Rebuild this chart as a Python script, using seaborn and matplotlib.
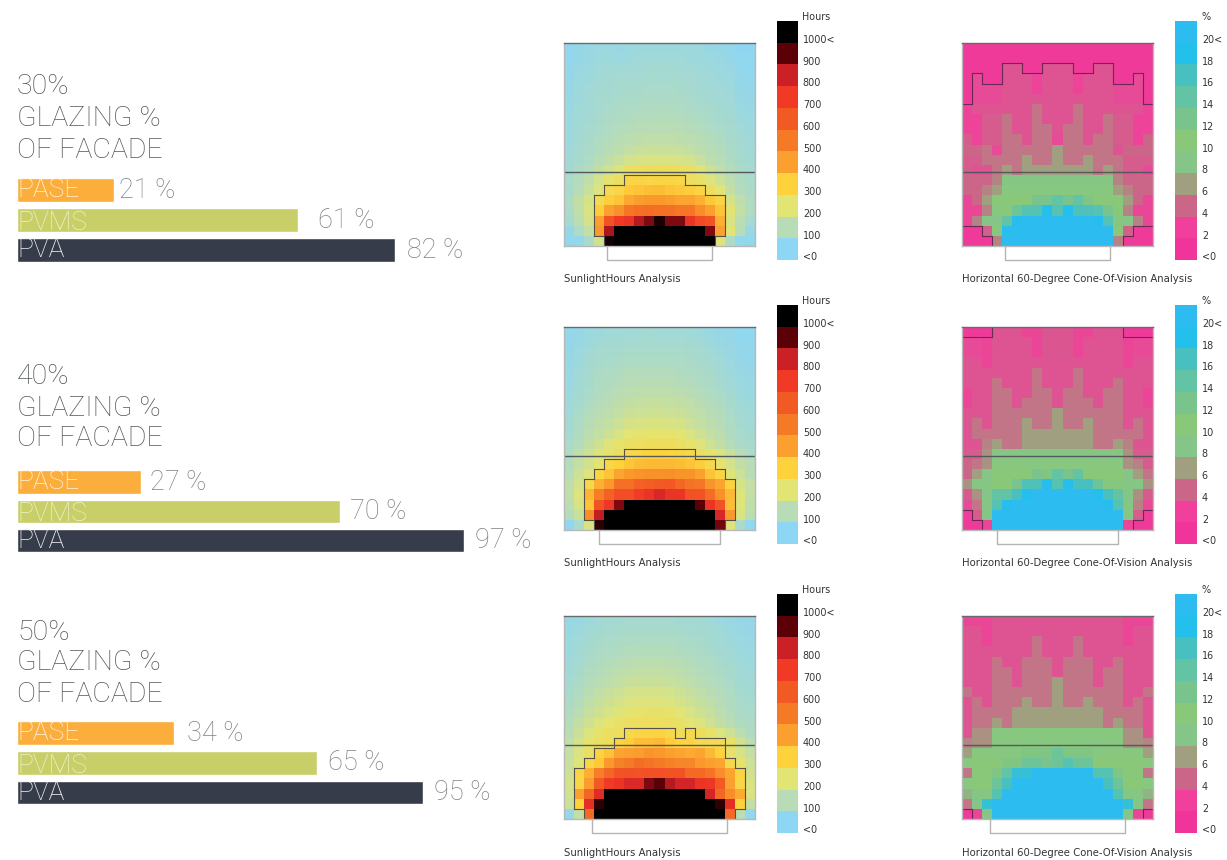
import numpy as np
import pandas as pd
import matplotlib
matplotlib.use('Agg')
import matplotlib.pyplot as plt
from matplotlib.colors import LinearSegmentedColormap
import seaborn as sns

FIG_W, FIG_H = 1227, 860

# bar data
glazing = ['30%', '40%', '50%']
systems = ['PASE', 'PVMS', 'PVA']
bars_30 = [21, 61, 82]
bars_40 = [27, 70, 97]
bars_50 = [34, 65, 88]  # PVA bar is drawn shorter than its printed 95 %
printed_30 = ['21 %', '61 %', '82 %']
printed_40 = ['27 %', '70 %', '97 %']
printed_50 = ['34 %', '65 %', '95 %']

# legends
sun_levels = [1100, 900, 800, 700, 600, 500, 400, 300, 200, 100, 0]
sun_labels = ['1000<', '900', '800', '700', '600', '500', '400', '300', '200', '100', '<0']
cone_levels = [20, 18, 16, 14, 12, 10, 8, 6, 4, 2, 0]
cone_labels = ['20<', '18', '16', '14', '12', '10', '8', '6', '4', '2', '<0']

# sunlight hours per cell
sun_30 = [
    [10, 20, 30, 35, 35, 30, 35, 40, 40, 40, 40, 40, 40, 35, 25, 25, 15, 5, 5],
    [15, 25, 30, 40, 40, 35, 40, 45, 45, 45, 45, 45, 40, 40, 35, 30, 20, 10, 10],
    [20, 30, 35, 45, 45, 50, 50, 50, 55, 55, 55, 50, 50, 45, 40, 35, 30, 15, 10],
    [25, 35, 40, 50, 55, 60, 60, 60, 60, 60, 60, 60, 60, 50, 45, 40, 35, 20, 15],
    [25, 40, 45, 55, 55, 60, 65, 65, 70, 70, 70, 65, 60, 55, 50, 50, 40, 25, 20],
    [30, 40, 50, 60, 60, 70, 70, 75, 75, 75, 75, 75, 70, 60, 55, 50, 45, 30, 25],
    [30, 45, 50, 60, 70, 75, 80, 80, 85, 85, 85, 80, 75, 70, 65, 55, 50, 35, 30],
    [35, 45, 55, 65, 75, 80, 85, 90, 90, 95, 95, 90, 85, 80, 70, 60, 55, 40, 35],
    [40, 50, 60, 70, 80, 90, 95, 100, 105, 105, 105, 100, 95, 90, 80, 70, 60, 50, 40],
    [40, 55, 65, 80, 90, 100, 110, 115, 120, 120, 120, 115, 110, 100, 90, 80, 65, 55, 45],
    [45, 60, 75, 85, 100, 115, 130, 140, 145, 145, 145, 140, 130, 115, 100, 90, 75, 60, 50],
    [50, 65, 80, 100, 120, 140, 165, 175, 180, 180, 180, 175, 165, 140, 115, 100, 80, 65, 55],
    [55, 75, 95, 125, 160, 195, 230, 240, 245, 245, 245, 240, 230, 195, 155, 120, 95, 75, 60],
    [70, 90, 120, 165, 210, 235, 280, 285, 280, 285, 285, 280, 240, 225, 190, 150, 110, 85, 70],
    [65, 100, 140, 190, 265, 280, 320, 330, 340, 345, 330, 320, 310, 290, 240, 200, 130, 90, 75],
    [80, 125, 170, 255, 310, 330, 385, 410, 420, 420, 410, 390, 390, 370, 320, 285, 170, 120, 85],
    [75, 120, 180, 310, 400, 440, 510, 530, 540, 530, 530, 510, 510, 450, 400, 330, 210, 130, 85],
    [60, 110, 170, 400, 620, 700, 720, 820, 870, 970, 870, 870, 720, 650, 620, 370, 180, 110, 60],
    [20, 80, 130, 420, 830, 1100, 1100, 1100, 1100, 1100, 1100, 1100, 1100, 1100, 870, 400, 200, 100, 30],
    [10, 20, 70, 160, 980, 1100, 1100, 1100, 1100, 1100, 1100, 1100, 1100, 1100, 1000, 190, 80, 15, 10],
]
sun_40 = [
    [15, 25, 35, 40, 45, 45, 50, 50, 55, 50, 50, 50, 45, 40, 30, 25, 20, 10, 10],
    [20, 30, 40, 50, 55, 55, 60, 60, 60, 60, 60, 60, 55, 50, 40, 30, 25, 15, 15],
    [25, 35, 50, 60, 60, 65, 70, 70, 70, 70, 70, 70, 65, 60, 50, 40, 30, 20, 15],
    [30, 40, 55, 65, 70, 75, 80, 80, 80, 80, 80, 80, 75, 65, 60, 50, 35, 25, 20],
    [30, 45, 60, 75, 80, 85, 90, 90, 90, 90, 90, 85, 80, 75, 65, 50, 40, 30, 25],
    [35, 50, 65, 80, 85, 95, 100, 100, 105, 105, 100, 95, 90, 80, 75, 60, 45, 35, 30],
    [40, 55, 70, 85, 95, 105, 110, 115, 115, 115, 115, 110, 105, 95, 80, 70, 55, 40, 30],
    [45, 60, 80, 95, 105, 115, 125, 130, 135, 135, 130, 125, 120, 105, 95, 80, 65, 45, 40],
    [50, 70, 90, 105, 115, 130, 145, 150, 150, 155, 150, 145, 130, 120, 105, 90, 70, 55, 45],
    [55, 80, 100, 115, 130, 150, 170, 175, 180, 180, 175, 170, 150, 130, 115, 100, 80, 60, 50],
    [60, 85, 110, 130, 155, 180, 200, 210, 215, 215, 215, 205, 180, 155, 130, 110, 85, 70, 55],
    [70, 95, 125, 155, 190, 215, 235, 240, 245, 245, 245, 235, 215, 190, 155, 125, 95, 75, 65],
    [85, 120, 150, 190, 215, 235, 275, 280, 300, 300, 295, 285, 270, 230, 215, 180, 140, 100, 80],
    [90, 130, 160, 210, 280, 300, 325, 345, 350, 350, 350, 345, 330, 310, 275, 215, 165, 125, 100],
    [100, 150, 190, 290, 330, 390, 420, 430, 440, 440, 445, 430, 430, 400, 330, 290, 195, 150, 100],
    [120, 165, 270, 370, 420, 530, 530, 580, 590, 600, 610, 560, 520, 510, 430, 390, 300, 170, 130],
    [120, 190, 360, 490, 580, 640, 640, 690, 720, 770, 720, 720, 630, 620, 540, 440, 350, 195, 130],
    [110, 175, 330, 620, 710, 870, 1100, 1100, 1100, 1100, 1100, 1100, 1100, 900, 720, 620, 340, 190, 120],
    [90, 140, 450, 810, 1100, 1100, 1100, 1100, 1100, 1100, 1100, 1100, 1100, 1100, 1100, 770, 420, 180, 110],
    [5, 70, 180, 950, 1100, 1100, 1100, 1100, 1100, 1100, 1100, 1100, 1100, 1100, 1100, 880, 190, 70, 10],
]
sun_50 = [
    [25, 30, 40, 50, 55, 55, 60, 60, 60, 60, 60, 55, 55, 50, 45, 35, 30, 25, 20],
    [30, 40, 50, 55, 60, 65, 65, 65, 65, 65, 65, 65, 60, 55, 55, 45, 35, 30, 25],
    [35, 45, 55, 65, 70, 75, 75, 80, 80, 80, 80, 75, 70, 65, 55, 50, 40, 35, 30],
    [40, 50, 65, 75, 80, 85, 90, 90, 95, 95, 90, 85, 80, 75, 65, 55, 50, 40, 35],
    [45, 60, 75, 85, 95, 100, 105, 110, 110, 110, 105, 100, 95, 85, 80, 65, 55, 45, 40],
    [50, 65, 85, 95, 105, 115, 120, 125, 125, 125, 120, 115, 105, 95, 85, 75, 65, 50, 45],
    [60, 75, 95, 105, 120, 130, 140, 145, 145, 145, 140, 130, 120, 105, 95, 85, 70, 55, 50],
    [65, 85, 105, 120, 135, 150, 165, 170, 170, 170, 165, 150, 135, 120, 105, 90, 80, 60, 55],
    [75, 95, 120, 135, 155, 170, 185, 190, 190, 190, 185, 170, 155, 135, 120, 100, 85, 70, 60],
    [85, 105, 135, 155, 175, 195, 210, 215, 220, 220, 215, 200, 175, 155, 135, 110, 95, 75, 70],
    [95, 125, 155, 185, 205, 220, 235, 240, 240, 240, 235, 220, 205, 185, 155, 125, 105, 85, 75],
    [105, 145, 185, 215, 235, 240, 270, 285, 285, 290, 270, 245, 270, 245, 225, 185, 150, 110, 85],
    [120, 165, 210, 235, 245, 290, 310, 340, 340, 350, 310, 295, 290, 265, 260, 265, 225, 160, 110],
    [130, 180, 230, 300, 330, 390, 400, 410, 430, 420, 400, 390, 380, 390, 350, 300, 220, 170, 130],
    [140, 195, 280, 320, 420, 480, 500, 540, 520, 500, 480, 470, 470, 420, 400, 390, 270, 215, 150],
    [150, 290, 370, 490, 560, 620, 630, 620, 630, 630, 620, 620, 550, 550, 520, 450, 390, 290, 160],
    [170, 280, 410, 600, 700, 720, 760, 760, 870, 900, 820, 780, 780, 720, 710, 600, 400, 280, 180],
    [160, 400, 560, 750, 1050, 1100, 1100, 1100, 1100, 1100, 1100, 1100, 1100, 1100, 780, 560, 450, 380, 180],
    [150, 300, 740, 950, 1100, 1100, 1100, 1100, 1100, 1100, 1100, 1100, 1100, 1100, 1100, 950, 740, 300, 130],
    [20, 130, 550, 1100, 1100, 1100, 1100, 1100, 1100, 1100, 1100, 1100, 1100, 1100, 1100, 1100, 550, 110, 10],
]

# cone of vision % per cell
cone_30 = [
    [1, 1, 1, 1, 1, 1, 1, 1, 1, 1, 1, 1, 1, 1, 1, 1, 1, 1, 1],
    [1, 1, 1, 1, 1, 1, 1, 1, 1, 1, 1, 1, 1, 1, 1, 1, 1, 1, 1],
    [1, 1, 1, 1, 3, 3, 1, 1, 3, 3, 3, 1, 1, 3, 3, 1, 1, 1, 1],
    [1, 2.5, 1, 1, 3, 3, 3, 2.2, 3, 3, 3, 2.2, 3, 3, 3, 1, 1, 2.5, 1],
    [1, 2.5, 2.5, 2.5, 3, 3, 3, 2.2, 3, 3, 3, 2.2, 3, 3, 3, 2.5, 2.5, 2.5, 1],
    [1, 2.5, 2.5, 2.5, 3, 3, 3, 3, 3, 3, 3, 3, 3, 3, 3, 2.5, 2.5, 2.5, 1],
    [2.2, 3, 3, 3, 3, 3, 3, 4.5, 3, 3, 3, 4.5, 3, 3, 3, 3, 3, 3, 2.2],
    [2.2, 2.2, 3.5, 3.5, 4.5, 3, 3, 4.5, 3, 3, 3, 4.5, 3, 3, 4.5, 3.5, 3.5, 2.2, 2.2],
    [2.2, 2.2, 3.5, 3.5, 4.5, 3, 3, 4.5, 4.5, 3, 4.5, 4.5, 3, 3, 4.5, 3.5, 3.5, 2.2, 2.2],
    [3.5, 2.2, 3.5, 3.5, 4.5, 4.5, 3, 4.5, 4.5, 2.5, 4.5, 4.5, 3, 4.5, 4.5, 3.5, 3.5, 2.2, 4],
    [4, 4, 4.5, 2.5, 4.5, 4.5, 4.5, 4.5, 4.5, 6, 4.5, 4.5, 4.5, 4.5, 4.5, 3, 4, 4, 4],
    [3.5, 3.5, 4.5, 4.5, 4.5, 4.5, 6, 4.5, 4.5, 6, 4.5, 4.5, 6, 4.5, 4.5, 4.5, 3.5, 3.5, 3.5],
    [3.5, 3, 3, 4.5, 6, 4.5, 6, 6, 6, 6, 6, 6, 6, 4.5, 6, 4.5, 3.5, 3.5, 2.5],
    [4, 4, 4, 5, 8.5, 8.5, 8.5, 8.5, 8.5, 8.5, 8.5, 8.5, 8.5, 8.5, 8.5, 5, 4, 4, 4],
    [4, 4, 5, 6, 9, 9, 9, 9, 9, 9, 9, 9, 9, 9, 9, 6, 5, 4, 4],
    [2.3, 4, 6, 10, 10, 10, 10, 12, 12, 14, 12, 14, 11, 10, 10, 10, 6, 4, 2.3],
    [2.3, 2.3, 5, 9, 10, 13, 15, 15, 18.5, 15, 18.5, 15.5, 15.5, 15, 12, 10, 5, 2.3, 2.3],
    [2.3, 5, 8, 8, 14, 19, 20, 20, 20, 20, 20, 20, 20, 19, 15, 8.5, 8.5, 5, 2.3],
    [1, 1, 3.8, 9, 19.5, 20, 20, 20, 20, 20, 20, 20, 20, 20, 20, 10, 3.8, 1, 1],
    [1, 1, 1, 5, 20, 20, 20, 20, 20, 20, 20, 20, 20, 20, 20, 5, 1, 1, 1],
]
cone_40 = [
    [1, 1, 1, 3, 3, 3, 2.3, 2.3, 3.2, 3.2, 3.2, 2.3, 2.3, 3, 3, 3, 1, 1, 1],
    [2.5, 2.5, 2.3, 3, 3, 3, 3, 2.3, 3.2, 3.2, 3.2, 2.3, 3, 3, 3, 3, 2.3, 2.5, 2.5],
    [2.5, 2.5, 2.3, 3, 3, 3, 3, 2.3, 3.2, 3.2, 3.2, 2.3, 3, 3, 3, 3, 2.3, 2.5, 2.5],
    [3, 3, 2.3, 3, 3, 3, 3, 3, 3, 3, 3, 3, 3, 3, 3, 3, 2.3, 3, 3],
    [3, 3, 3, 3, 3, 3, 3, 4.5, 3, 3, 3, 4.5, 3, 3, 3, 3, 3, 3, 3],
    [3, 3, 3, 4.5, 3, 3, 3, 4.5, 3, 3, 3, 4.5, 3, 3, 3, 4.5, 3, 3, 3],
    [2.3, 3, 3, 4.5, 4.5, 3, 3, 4.5, 4.5, 3, 4.5, 4.5, 3, 3, 4.5, 4.5, 3, 3, 2.3],
    [2.3, 3, 3, 4.5, 4.5, 3, 4.5, 4.5, 4.5, 3, 4.5, 4.5, 4.5, 3, 4.5, 4.5, 3, 3, 2.3],
    [3, 3, 3, 4.5, 4.5, 4.5, 4.5, 4.5, 4.5, 6, 4.5, 4.5, 4.5, 4.5, 4.5, 4.5, 3, 3, 3],
    [3, 4.5, 3, 4.5, 4.5, 4.5, 6, 4.5, 4.5, 6, 4.5, 4.5, 6, 4.5, 4.5, 4.5, 3, 4.5, 3],
    [3, 4.5, 4.5, 4.5, 4.5, 4.5, 6, 6, 6, 6, 6, 6, 6, 4.5, 4.5, 4.5, 4.5, 4.5, 3],
    [3, 3, 5, 6, 4.5, 4.5, 6, 6, 6, 6, 6, 6, 6, 4.5, 4.5, 6, 5, 3, 3],
    [3.5, 3.5, 5.5, 8.5, 8.5, 8.5, 8.5, 8.5, 8.5, 8.5, 8.5, 8.5, 8.5, 8.5, 8.5, 8.5, 5.5, 3.5, 3.5],
    [4, 4.5, 5.5, 9, 9, 9, 9, 9, 9, 9, 9, 9, 9, 9, 9, 9, 5.5, 5, 3.5],
    [4, 6, 8, 10, 10, 10, 10, 12, 11, 14, 12, 14, 10, 10, 10, 10, 8, 6, 4.5],
    [5.5, 8.5, 8.5, 10, 10, 12, 15.5, 15.5, 19, 15, 19, 16, 16, 13, 10.5, 10.5, 8.5, 8.5, 5.5],
    [3.5, 5.5, 8, 14, 14, 16, 18.5, 20, 20, 20, 20, 20, 20, 18.5, 16, 14, 8, 5.5, 3.5],
    [2.5, 4.5, 8, 15, 19, 20, 20, 20, 20, 20, 20, 20, 20, 20, 19, 15, 8.5, 5, 2.5],
    [1.5, 3.5, 8.5, 20, 20, 20, 20, 20, 20, 20, 20, 20, 20, 20, 20, 20, 8.5, 3.5, 1.5],
    [1, 1, 2.3, 20, 20, 20, 20, 20, 20, 20, 20, 20, 20, 20, 20, 20, 2.3, 1, 1],
]
cone_50 = [
    [2.3, 2.3, 2.3, 3, 3, 3, 3, 3, 3, 3, 3, 3, 3, 3, 3, 3, 2.3, 2.3, 2.3],
    [3, 3, 2.3, 3, 3, 3, 3, 3, 3, 3, 3, 3, 3, 3, 3, 3, 2.3, 3, 3],
    [3, 3, 2.3, 3, 3, 3, 3, 4.5, 3, 3, 3, 4.5, 3, 3, 3, 3, 2.3, 3, 3],
    [3, 3, 3, 3, 3, 3, 3, 4.5, 3, 3, 3, 4.5, 3, 3, 3, 3, 3, 3, 3],
    [3, 3, 3, 4.5, 3, 3, 4.5, 4.5, 4.5, 3, 4.5, 4.5, 4.5, 3, 3, 4.5, 3, 3, 3],
    [3, 3, 3, 4.5, 4.5, 3, 4.5, 4.5, 4.5, 3, 4.5, 4.5, 4.5, 3, 4.5, 4.5, 3, 3, 3],
    [3, 3, 3, 4.5, 4.5, 3, 4.5, 4.5, 4.5, 6, 4.5, 4.5, 4.5, 3, 4.5, 4.5, 3, 3, 3],
    [4.5, 3, 3, 4.5, 4.5, 4.5, 4.5, 4.5, 4.5, 6, 4.5, 4.5, 4.5, 4.5, 4.5, 4.5, 3, 3, 4.5],
    [3, 4.5, 3, 4.5, 4.5, 4.5, 6, 4.5, 4.5, 6, 4.5, 4.5, 6, 4.5, 4.5, 4.5, 3, 4.5, 3],
    [3, 4.5, 4.5, 4.5, 4.5, 6, 6, 6, 6, 6, 6, 6, 6, 6, 4.5, 4.5, 4.5, 4.5, 3],
    [3, 4.5, 4.5, 6, 4.5, 6, 6, 6, 6, 6, 6, 6, 6, 6, 4.5, 6, 4.5, 4.5, 3],
    [3, 5.5, 5.5, 9, 9, 9, 9, 9, 9, 9, 9, 9, 9, 9, 9, 9, 5.5, 5.5, 3],
    [5, 5.5, 5.5, 9, 9, 9, 9, 9, 9, 9, 9, 9, 9, 9, 9, 9, 5.5, 5.5, 5],
    [6, 9, 9, 9, 9, 9, 11, 11, 11, 13, 11, 11, 11, 9, 9, 9, 9, 9, 6],
    [9, 10, 10, 10, 11, 11, 13, 13, 12, 13, 15, 13, 13, 10, 10, 10, 10, 10, 9],
    [4.5, 10, 10, 11, 14, 17, 17, 20, 20, 20, 20, 20, 20, 15, 15, 11, 10, 10, 4.5],
    [9, 10, 10, 13, 16, 20, 20, 20, 20, 20, 20, 20, 20, 20, 16, 13, 10, 10, 9],
    [7, 8.5, 8.5, 15, 20, 20, 20, 20, 20, 20, 20, 20, 20, 20, 20, 15, 8.5, 8.5, 7],
    [4.5, 8, 17, 20, 20, 20, 20, 20, 20, 20, 20, 20, 20, 20, 20, 20, 17, 8, 4.5],
    [1, 2.3, 8.5, 20, 20, 20, 20, 20, 20, 20, 20, 20, 20, 20, 20, 20, 8.5, 2.3, 1],
]

# colormaps: band colours at the legend levels
sun_cmap = LinearSegmentedColormap.from_list('sun', [
    (0.0, '#8dd6f4'), (0.1, '#b7dcb6'), (0.2, '#e2e574'), (0.3, '#fed23d'),
    (0.4, '#fba02e'), (0.5, '#f57a25'), (0.6, '#f25a24'), (0.7, '#f13a26'),
    (0.8, '#cc2027'), (0.9, '#5c0008'), (1.0, '#000000')], N=512)
cone_cmap = LinearSegmentedColormap.from_list('cone', [
    (0.0, '#f0349a'), (0.1, '#f0409b'), (0.2, '#cc6688'), (0.3, '#a0a080'),
    (0.4, '#85c688'), (0.5, '#88c878'), (0.6, '#78c48c'), (0.7, '#62c4a4'),
    (0.8, '#48c0c0'), (0.9, '#22c0ea'), (1.0, '#2cbcf0')], N=512)

sns.set_theme(style='white')
plt.rcParams['font.family'] = ['Roboto', 'DejaVu Sans']
fig = plt.figure(figsize=(FIG_W / 100, FIG_H / 100), dpi=100, facecolor='white')


def px_axes(x0, y0, x1, y1):
    # axes from pixel box, y measured from the top
    return fig.add_axes([x0 / FIG_W, 1 - y1 / FIG_H, (x1 - x0) / FIG_W, (y1 - y0) / FIG_H])


def px_text(x, y, s, **kw):
    fig.text(x / FIG_W, 1 - y / FIG_H, s, va='center', **kw)


def draw_step_outline(ax, grid, level, color):
    # outline the cells above level, only on edges between two cells
    inside = np.array(grid) > level
    rows, cols = inside.shape
    for r in range(rows):
        for c in range(cols):
            if r + 1 < rows and inside[r, c] != inside[r + 1, c]:
                ax.plot([c, c + 1], [r + 1, r + 1], color=color, lw=0.8, solid_capstyle='projecting')
            if c + 1 < cols and inside[r, c] != inside[r, c + 1]:
                ax.plot([c + 1, c + 1], [r, r + 1], color=color, lw=0.8, solid_capstyle='projecting')


def draw_map(box, grid, cmap, vmax, level, line_color, room, caption):
    ax = px_axes(*box)
    sns.heatmap(grid, ax=ax, cmap=cmap, vmin=0, vmax=vmax, cbar=False,
                xticklabels=False, yticklabels=False)
    draw_step_outline(ax, grid, level, line_color)
    ax.axhline(12.75, color='#55585a', lw=1)
    # room footprint under the grid
    ax.plot([room[0], room[0], room[1], room[1]], [20, 21.35, 21.35, 20],
            color='#b4b4b4', lw=1, clip_on=False)
    for side, spine in ax.spines.items():
        spine.set_visible(True)
        spine.set_color('#6a6a6a' if side == 'top' else '#b8b8b8')
        spine.set_linewidth(1)
    px_text(box[0], box[3] + 33.5, caption, fontsize=7.25, color='#333333', family='DejaVu Sans')


def draw_legend(box, levels, labels, cmap, vmax, head):
    ax = px_axes(*box)
    sns.heatmap(pd.DataFrame({'band': levels}), ax=ax, cmap=cmap, vmin=0, vmax=vmax, cbar=False,
                xticklabels=False, yticklabels=labels)
    ax.set_yticks(np.arange(len(levels)) + 0.83)
    ax.set_yticklabels(labels, rotation=0, fontsize=6.9, color='#333333', family='DejaVu Sans')
    ax.yaxis.tick_right()
    ax.tick_params(axis='y', length=0, pad=3.5)
    px_text(box[2] + 4, box[1] - 4, head, fontsize=6.9, color='#333333', family='DejaVu Sans')


def draw_bars(top, pitch, values, printed, gaps, heading, heading_ys):
    # one axes with three rows, 4.61 px per percent
    ax = px_axes(17, top, 537, top + 3 * pitch)
    data = pd.DataFrame({'system': systems, 'value': values})
    sns.barplot(data=data, x='value', y='system', hue='system', orient='h', ax=ax, width=0.8,
                palette=['#fbae3c', '#c8cf68', '#363c4a'], saturation=1, legend=False)
    ax.set_xlim(0, 520 / 4.61)
    ax.set_ylim(2.5, -0.5)
    ax.axis('off')
    label_colors = ['#fff4e0', '#eef1c6', '#f2f3f5']
    label_shift = [0, 0.09, 0]
    for i, name in enumerate(systems):
        t = ax.text(0.1, i + label_shift[i], name, va='center', ha='left', fontsize=19,
                    fontweight='light', color=label_colors[i], zorder=5)
        # PVMS runs off the bottom of its bar
        t.set_clip_path(ax.patches[i])
        ax.annotate(printed[i], (values[i], i), xytext=(gaps[i] * 0.72, 0),
                    textcoords='offset points', va='center', ha='left', fontsize=19.5,
                    fontweight='light', color='#7d8184')
    for y, line in zip(heading_ys, heading):
        px_text(17, y, line, fontsize=20.5, fontweight='light', color='#54585b')


sun_boxes = [(564, 43, 755, 246), (564, 327, 755, 530), (564, 616, 755, 819)]
cone_boxes = [(962, 43, 1153, 246), (962, 327, 1153, 530), (962, 616, 1153, 819)]
sun_legends = [(777, 21, 798, 260), (777, 305, 798, 544), (777, 594, 798, 833)]
cone_legends = [(1175, 21, 1197, 260), (1175, 305, 1197, 544), (1175, 594, 1197, 833)]
rooms = [(4.25, 14.75), (3.5, 15.5), (2.75, 16.25)]
sun_grids = [sun_30, sun_40, sun_50]
cone_grids = [cone_30, cone_40, cone_50]

for i in range(3):
    draw_map(sun_boxes[i], sun_grids[i], sun_cmap, 1000, 250, '#55504a', rooms[i], 'SunlightHours Analysis')
    draw_map(cone_boxes[i], cone_grids[i], cone_cmap, 20, 2, '#6a2a55', rooms[i],
             'Horizontal 60-Degree Cone-Of-Vision Analysis')
    draw_legend(sun_legends[i], sun_levels, sun_labels, sun_cmap, 1000, 'Hours')
    draw_legend(cone_legends[i], cone_levels, cone_labels, cone_cmap, 20, '%')

draw_bars(175, 30, bars_30, printed_30, [5, 20, 12],
          [glazing[0], 'GLAZING %', 'OF FACADE'], [87, 119, 150])
draw_bars(467.5, 29.2, bars_40, printed_40, [9, 10, 11],
          [glazing[1], 'GLAZING %', 'OF FACADE'], [376, 408, 439])
draw_bars(718.5, 29.6, bars_50, printed_50, [13, 11, 11],
          [glazing[2], 'GLAZING %', 'OF FACADE'], [632, 663, 695])

fig.savefig('out.png', dpi=100, facecolor='white')
